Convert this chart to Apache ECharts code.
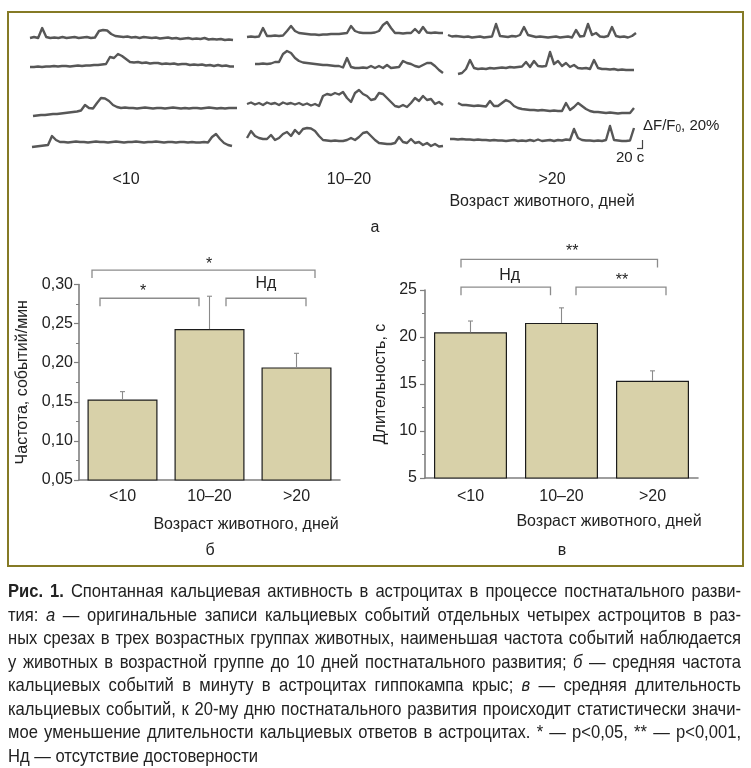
<!DOCTYPE html>
<html>
<head>
<meta charset="utf-8">
<script src="https://cdn.jsdelivr.net/npm/echarts@6/dist/echarts.min.js"></script>
<style>
html,body{margin:0;padding:0;background:#fff;}
#chart{width:751px;height:768px;}
</style>
</head>
<body>
<div id="chart"></div>
<script>
// ---------------- DATA ----------------
const ageGroups = ['<10', '10–20', '>20'];

// Panel б: mean frequency of events (events/min) and upper end of error bar
const freqMean  = [0.153, 0.243, 0.194];
const freqUpper = [0.163, 0.285, 0.212];
// Panel в: mean duration (s) and upper end of error bar
const durMean   = [20.5, 21.5, 15.35];
const durUpper  = [21.7, 23.1, 16.4];

// significance brackets [from, to, label]
const freqSig = [['<10', '>20', '*'], ['<10', '10–20', '*'], ['10–20', '>20', 'Нд']];
const durSig  = [['<10', '>20', '**'], ['<10', '10–20', 'Нд'], ['10–20', '>20', '**']];

// Panel а: calcium traces (relative units, scale bar 8 units = 20% ΔF/F0), uniform time steps
const trLt10_1 = [0,1,0,10,1,0,0.5,0,1,0,0.5,1,0,0.5,1,0,0.5,7,8,7.5,4,2,1.5,1,1.5,0.5,1,0,1,0.5,0,0.5,-0.5,0,0.5,-0.5,0,-1,-0.5,0,-1,-0.5,-1,0,-1.5,-1,-1.5,-1,-2,-1.5,-2];
const trLt10_2 = [0,0,0.5,0,0.5,0.5,1,0.5,1,1,0.5,1,1.5,1,1.5,1.5,2,2,2.5,3,10,9,13,11,8,5,4.5,5,4,4.5,3.5,4,4,3,3.5,3,3.5,2.5,3,3,2,2.5,2,2.5,1.5,2,1,2,1,1.5,0.5,0.5];
const trLt10_3 = [0,0.5,1,1,1.5,2,2,2.5,3,3.5,4,4.5,5.5,11,8,7.5,13,18,17.5,15,11,9,8,8.5,8,8,7.5,8,8.5,8,7.5,8,8,7.5,8,8.5,8,7.5,8,7.5,8,8,7.5,8,8.5,8,7.5,8,7.5,8,8,8];
const trLt10_4 = [0,0.5,1,1.5,2,11,7,5,5,4.5,5,5.5,5,5,4.5,5,5.5,5,5,4.5,5,5.5,5,4.5,5,5,5.5,5,4.5,5,5,5.5,5,4.5,5,5,4.5,5,5,4.5,5,4.5,4.5,5,4.5,10,13,8,4,2,1];
const tr10_20_1 = [0,0.5,0,0.5,9,1,1,1.5,1,1.5,6,11,6,4,3.5,3,2.5,2.5,2,2.5,2.5,3,3,3,3.5,4,11,6,4.5,4,4,4,4.5,6,12,15,9,4,4,3.5,4,4,8,4,10,4.5,4,4.5,4,4];
const tr10_20_2 = [4,4,4.5,4,4.5,6,6,14,17,15,10,7,5.5,5,4.5,4,3.5,3,3,2.5,2,2,0.5,10,1,0,0,0.5,0,2,0,2,0,3,0,0.5,1,7,5,4,2,1,3,5,5,2,-2,-5];
const tr10_20_3 = [0,1.5,-0.5,1,-1,1.5,0,1,-1,1.5,0,1,-0.5,1,-1,0.5,-1.5,0,-2,8,10,9,11,9.5,12,6,2,11,14,10,8,4,5,11,10,6,2,-2,-3,-1,-3,1,6,3,8,4,5,0,2,-1];
const tr10_20_4 = [8,15,10,8,7,7,11,6,8,12,14,10,16,12,17,18,17.5,15,10,6,5.5,5,5.5,5,5,6,8,6,9,13,14,10,6,3,2.5,2,2,3,9,4,3,7,3,4,1,3,0,2,-0.5,0];
const trGt20_1 = [2,0.5,1,0.5,0,0.5,-0.5,0,0.5,-0.5,0,0.5,13,1,0.5,0,1,0.5,2,10,2,1,0,0.5,0,-0.5,0,0.5,-0.5,0,0.5,-0.5,7,0.5,1,13,2,4,0.5,0,1,10,1,0,0.5,-0.5,1,4];
const trGt20_2 = [0,1,5,14,6,5,5.5,5,6,5.5,6,6.5,6,7,6.5,7,7.5,12,7,13,8,7.5,8,22,10,13,8,11,7,9,6,5.5,6,5,14,6,5,5,4.5,5,4,4.5,4,4,4];
const trGt20_3 = [10,8,8,7.5,7,7.5,7,6.5,12,7,7,10,13,11,7,5,4,3.5,3,3,2.5,3,2.5,2,2.5,2,2,10,3,6,10,7,4,2,1,1,0.5,0,0.5,0,-0.5,0,0,0,5];
const trGt20_4 = [2,2,1.5,2,1.5,1.5,1,1.5,1,1,0.5,1,0.5,0.5,0,0.5,1,0,0.5,0,1,0,1.5,0,0.5,1,0,1,0.5,1.5,1,12,3,1,0.5,0.5,0,0.5,0,1,15,1,0.5,0,0,0.5,13];

const captionLines = [
  '#Рис.# #1.# Спонтанная кальциевая активность в астроцитах в процессе постнатального разви-',
  'тия: _а_ — оригинальные записи кальциевых событий отдельных четырех астроцитов в раз-',
  'ных срезах в трех возрастных группах животных, наименьшая частота событий наблюдается',
  'у животных в возрастной группе до 10 дней постнатального развития; _б_ — средняя частота',
  'кальциевых событий в минуту в астроцитах гиппокампа крыс; _в_ — средняя длительность',
  'кальциевых событий, к 20-му дню постнатального развития происходит статистически значи-',
  'мое уменьшение длительности кальциевых ответов в астроцитах. * — p<0,05, ** — p<0,001,',
  'Нд — отсутствие достоверности'
];

// ---------------- LAYOUT / STYLE ----------------
const FIG = "'Liberation Sans', Arial, Helvetica, sans-serif";
const CAP = "'Liberation Sans', Arial, Helvetica, sans-serif";
const TXT = '#222';
const AXC = '#7f7f7f';

const traceLayout = [
  {d: trLt10_1, left: 30,  width: 203, base: 38},
  {d: trLt10_2, left: 30,  width: 204, base: 67},
  {d: trLt10_3, left: 33,  width: 204, base: 116},
  {d: trLt10_4, left: 32,  width: 200, base: 147},
  {d: tr10_20_1, left: 247, width: 196, base: 37},
  {d: tr10_20_2, left: 255, width: 188, base: 68},
  {d: tr10_20_3, left: 247, width: 196, base: 104},
  {d: tr10_20_4, left: 247, width: 196, base: 146},
  {d: trGt20_1, left: 448, width: 188, base: 37},
  {d: trGt20_2, left: 458, width: 176, base: 74},
  {d: trGt20_3, left: 458, width: 176, base: 113},
  {d: trGt20_4, left: 450, width: 184, base: 141}
];

const grids = [], xAxes = [], yAxes = [], series = [];
traceLayout.forEach((t, i) => {
  grids.push({left: t.left, top: t.base - 28, width: t.width, height: 40});
  xAxes.push({gridIndex: i, type: 'value', min: 0, max: t.d.length - 1, show: false});
  yAxes.push({gridIndex: i, type: 'value', min: -12, max: 28, show: false});
  series.push({
    type: 'line', xAxisIndex: i, yAxisIndex: i, showSymbol: false, silent: true,
    data: t.d.map((v, k) => [k, v]),
    lineStyle: {color: '#575757', width: 2.4, join: 'round'}
  });
});

// bar panels
const GB = 12, GC = 13;
grids.push({left: 79, top: 284.5, width: 261, height: 195.5});
grids.push({left: 425, top: 290, width: 273, height: 188});

function catAxis(gi, nameShift, nameGap, margin) {
  return {
    gridIndex: gi, type: 'category', data: ageGroups,
    axisLine: {lineStyle: {color: AXC, width: 1.6}},
    axisTick: {alignWithLabel: true, length: 5, lineStyle: {color: AXC, width: 1.2}},
    axisLabel: {fontSize: 16, color: TXT, margin: margin, fontFamily: FIG},
    name: 'Возраст животного, дней', nameLocation: 'middle', nameGap: nameGap,
    nameTextStyle: {fontSize: 16, color: TXT, fontFamily: FIG, padding: [0, 0, 0, nameShift]}
  };
}
function valAxis(gi, min, max, interval, name, nameGap, margin, fmt) {
  return {
    gridIndex: gi, type: 'value', min: min, max: max, interval: interval,
    axisLine: {show: true, lineStyle: {color: AXC, width: 1.6}},
    axisTick: {show: true, length: 5, lineStyle: {color: AXC, width: 1.2}},
    minorTick: {show: true, splitNumber: 2, length: 3, lineStyle: {color: AXC, width: 1}},
    splitLine: {show: false},
    axisLabel: {fontSize: 16, color: TXT, margin: margin, fontFamily: FIG, formatter: fmt},
    name: name, nameLocation: 'middle', nameGap: nameGap, nameRotate: 90,
    nameTextStyle: {fontSize: 16, color: TXT, fontFamily: FIG}
  };
}
xAxes.push(catAxis(GB, 73, 37, 9));
xAxes.push(catAxis(GC, 95, 36, 11));
yAxes.push(valAxis(GB, 0.05, 0.30, 0.05, 'Частота, событий/мин', 48, 6, v => v.toFixed(2).replace('.', ',')));
yAxes.push(valAxis(GC, 5, 25, 5, 'Длительность, с', 36, 8, v => String(Math.round(v))));

const barStyle = {color: '#d8d1a9', borderColor: '#1c1c1c', borderWidth: 1.2};
series.push({type: 'bar', xAxisIndex: GB, yAxisIndex: GB, data: freqMean, barWidth: 70, itemStyle: barStyle, silent: true});
series.push({type: 'bar', xAxisIndex: GC, yAxisIndex: GC, data: durMean, barWidth: 73, itemStyle: barStyle, silent: true});

function errSeries(gi, mean, upper) {
  return {
    type: 'custom', xAxisIndex: gi, yAxisIndex: gi, z: 5, silent: true,
    data: mean.map((m, i) => [i, m, upper[i]]),
    encode: {x: 0, y: [1, 2]},
    renderItem: (params, api) => {
      const p0 = api.coord([api.value(0), api.value(1)]);
      const p1 = api.coord([api.value(0), api.value(2)]);
      const st = {stroke: '#8a8a8a', lineWidth: 1.1};
      return {type: 'group', children: [
        {type: 'line', shape: {x1: p0[0], y1: p0[1], x2: p1[0], y2: p1[1]}, style: st},
        {type: 'line', shape: {x1: p1[0] - 2.5, y1: p1[1], x2: p1[0] + 2.5, y2: p1[1]}, style: st}
      ]};
    }
  };
}
series.push(errSeries(GB, freqMean, freqUpper));
series.push(errSeries(GC, durMean, durUpper));

// bracket geometry (px offsets from category centres, level in axis units, label offsets)
const bracketB = [
  {y: 0.3185, dl: -30.5, dr: 18.5, tick: 8, lx: 5.5, ly: 5.5},
  {y: 0.2824, dl: -22.5, dr: -10.5, tick: 8, lx: -6.5, ly: 6.5},
  {y: 0.2824, dl: 16.5, dr: 9.5, tick: 8, lx: 0, ly: 14.7}
];
const bracketC = [
  {y: 28.25, dl: -9.5, dr: 5, tick: 8, lx: 13, ly: 8},
  {y: 25.3, dl: -9.5, dr: -11, tick: 8, lx: 4, ly: 12},
  {y: 25.3, dl: 14.5, dr: 13.5, tick: 8, lx: 1, ly: 6.5}
];
function bracketSeries(gi, sig, lay) {
  return {
    type: 'custom', xAxisIndex: gi, yAxisIndex: gi, z: 6, silent: true, clip: false,
    data: sig.map((s, i) => [ageGroups.indexOf(s[0]), lay[i].y, ageGroups.indexOf(s[1])]),
    encode: {x: [0, 2], y: 1},
    renderItem: (params, api) => {
      const L = lay[params.dataIndex];
      const pl = api.coord([api.value(0), api.value(1)]);
      const pr = api.coord([api.value(2), api.value(1)]);
      const x1 = pl[0] + L.dl, x2 = pr[0] + L.dr, y = pl[1];
      return {type: 'group', children: [
        {type: 'polyline', shape: {points: [[x1, y + L.tick], [x1, y], [x2, y], [x2, y + L.tick]]},
         style: {stroke: '#8c8c8c', lineWidth: 1.3, fill: null}},
        {type: 'text', x: (x1 + x2) / 2 + L.lx, y: y - L.ly,
         style: {text: sig[params.dataIndex][2], fontSize: 16, fontFamily: FIG, fill: TXT, align: 'center', verticalAlign: 'middle'}}
      ]};
    }
  };
}
series.push(bracketSeries(GB, freqSig, bracketB));
series.push(bracketSeries(GC, durSig, bracketC));

// ---------------- GRAPHIC (texts, frame, scale bar, caption) ----------------
function T(text, x, y, o) {
  o = o || {};
  return {type: 'text', x: x, y: y, silent: true, style: Object.assign({
    text: text, fontSize: 16, fontFamily: FIG, fill: TXT, align: 'center', verticalAlign: 'middle'}, o)};
}
const gfx = [];
gfx.push({type: 'rect', silent: true, shape: {x: 8, y: 12, width: 735, height: 554},
  style: {fill: null, stroke: '#857a25', lineWidth: 2}});
[126, 349, 552].forEach((x, i) => gfx.push(T(ageGroups[i], x, 180)));
gfx.push(T('Возраст животного, дней', 542, 202));
gfx.push(T('а', 375, 228));
gfx.push(T('б', 210, 551));
gfx.push(T('в', 562, 551));
// scale bar
gfx.push({type: 'line', silent: true, shape: {x1: 642.5, y1: 140, x2: 642.5, y2: 148.5}, style: {stroke: '#444', lineWidth: 1.2}});
gfx.push({type: 'line', silent: true, shape: {x1: 637, y1: 148.5, x2: 643, y2: 148.5}, style: {stroke: '#444', lineWidth: 1.2}});
gfx.push({type: 'text', x: 643, y: 126, silent: true, style: {
  text: '{a|ΔF/F}{s|0}{a|, 20%}', fill: TXT, align: 'left', verticalAlign: 'middle',
  rich: {a: {fontSize: 15, fontFamily: FIG, fill: TXT, lineHeight: 18},
         s: {fontSize: 10, fontFamily: FIG, fill: TXT, lineHeight: 18, padding: [7, 0, 0, 0]}}}});
gfx.push(T('20 с', 616, 158, {fontSize: 15, align: 'left'}));

// caption, justified, condensed via horizontal scaling
(function () {
  const ctx = document.createElement('canvas').getContext('2d');
  const X0 = 8, X1 = 741, Y0 = 592, DY = 23.5, W = X1 - X0, SIZE = 18.5;
  const lines = captionLines.map(l => l.split(' ').map(w => {
    if (/^#.+#$/.test(w)) return {t: w.slice(1, -1), fw: 'bold', fs: 'normal'};
    if (/^_.+_$/.test(w)) return {t: w.slice(1, -1), fw: 'normal', fs: 'italic'};
    return {t: w, fw: 'normal', fs: 'normal'};
  }));
  const meas = tk => { ctx.font = tk.fs + ' ' + tk.fw + ' ' + SIZE + 'px ' + CAP; return ctx.measureText(tk.t).width; };
  ctx.font = 'normal normal ' + SIZE + 'px ' + CAP;
  const sp = ctx.measureText(' ').width;
  const lineW = tks => tks.reduce((s, tk) => s + meas(tk), 0) + sp * (tks.length - 1);
  // horizontal scale chosen so the last (unjustified) line is ~250 px wide as in the reference
  let sx = 250 / lineW(lines[lines.length - 1]);
  while (sx > 0.5 && lines.slice(0, -1).some(tks =>
      (tks.reduce((s, tk) => s + meas(tk), 0) + 0.55 * sp * (tks.length - 1)) * sx > W)) sx -= 0.005;
  lines.forEach((tks, k) => {
    const widths = tks.map(tk => meas(tk) * sx);
    const sum = widths.reduce((a, b) => a + b, 0);
    const last = k === lines.length - 1;
    const gap = last ? sp * sx : (W - sum) / (tks.length - 1);
    let x = X0;
    tks.forEach((tk, j) => {
      gfx.push({type: 'text', x: x, y: Y0 + k * DY, scaleX: sx, silent: true, style: {
        text: tk.t, fontSize: SIZE, fontFamily: CAP, fontWeight: tk.fw, fontStyle: tk.fs,
        fill: TXT, align: 'left', verticalAlign: 'middle'}});
      x += widths[j] + gap;
    });
  });
})();

const chart = echarts.init(document.getElementById('chart'), null, {renderer: 'canvas'});
chart.setOption({
  animation: false,
  backgroundColor: '#ffffff',
  textStyle: {fontFamily: FIG},
  grid: grids,
  xAxis: xAxes,
  yAxis: yAxes,
  series: series,
  graphic: {elements: gfx}
});
</script>
</body>
</html>
